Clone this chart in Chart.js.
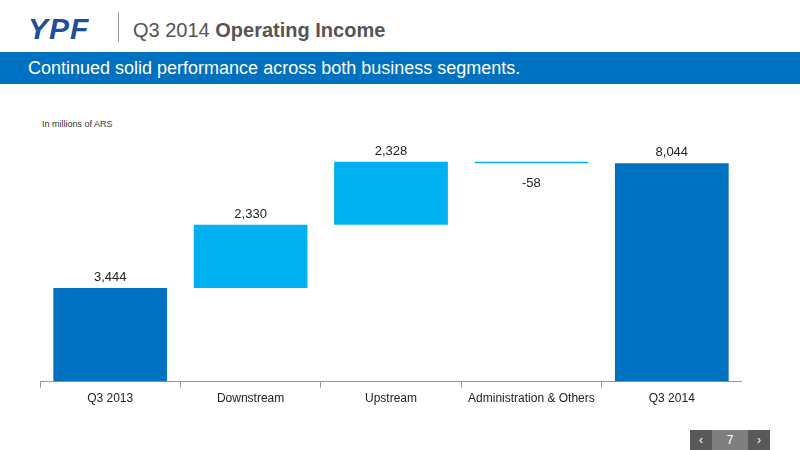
<!DOCTYPE html>
<html><head><meta charset="utf-8">
<script src="https://cdn.jsdelivr.net/npm/chart.js@4"></script>
<style>
body{margin:0;width:800px;height:450px;position:relative;background:#fff;font-family:"Liberation Sans",Arial,sans-serif;overflow:hidden}
#logo{position:absolute;left:28px;top:12px;font:italic bold 30px "Liberation Sans";color:#1f4e9c;letter-spacing:1px}
#sep{position:absolute;left:118px;top:12px;width:1px;height:30px;background:#999}
#title{position:absolute;left:133px;top:19px;font-size:20px;color:#555}
#band{position:absolute;left:0;top:52px;width:800px;height:32px;background:#0070c0;color:#fff;font-size:18px;line-height:32px;padding-left:28px;box-sizing:border-box}
#unit{position:absolute;left:42px;top:119px;font-size:9px;color:#333}
#wrap{position:absolute;left:30px;top:140px;width:712px;height:270px}
#nav{position:absolute;left:690px;top:430px;width:80px;height:20px;background:#7f7f7f;color:#fff;font-size:12px;text-align:center;line-height:20px}
#nav span{position:absolute;top:0;width:22px;height:20px;background:#595959}
</style></head><body>
<div id="logo">YPF</div><div id="sep"></div>
<div id="title">Q3 2014 <b>Operating Income</b></div>
<div id="band">Continued solid performance across both business segments.</div>
<div id="unit">In millions of ARS</div>
<div id="wrap"><canvas id="c"></canvas></div>
<div id="nav"><span style="left:0">&lsaquo;</span>7<span style="right:0">&rsaquo;</span></div>
<script>
var categories = ['Q3 2013', 'Downstream', 'Upstream', 'Administration & Others', 'Q3 2014'];
var changes = [3444, 2330, 2328, -58, 8044];
var labels = ['3,444', '2,330', '2,328', '-58', '8,044'];
var isTotal = [true, false, false, false, true];

var ranges = [], run = 0;
for (var i = 0; i < changes.length; i++) {
  if (isTotal[i]) { ranges.push([0, changes[i]]); run = changes[i]; }
  else { ranges.push([run, run + changes[i]]); run += changes[i]; }
}

var valueLabels = {
  id: 'valueLabels',
  afterDatasetsDraw: function (chart) {
    var ctx = chart.ctx, meta = chart.getDatasetMeta(0);
    ctx.save();
    ctx.font = '13px "Liberation Sans"';
    ctx.fillStyle = '#222';
    ctx.textAlign = 'center';
    meta.data.forEach(function (bar, i) {
      var r = ranges[i];
      var top = chart.scales.y.getPixelForValue(Math.max(r[0], r[1]));
      var bot = chart.scales.y.getPixelForValue(Math.min(r[0], r[1]));
      if (changes[i] < 0) { ctx.textBaseline = 'top'; ctx.fillText(labels[i], bar.x, bot + 14); }
      else { ctx.textBaseline = 'bottom'; ctx.fillText(labels[i], bar.x, top - 4); }
    });
    ctx.restore();
  }
};

new Chart(document.getElementById('c'), {
  type: 'bar',
  data: {
    labels: categories,
    datasets: [{
      data: ranges,
      backgroundColor: isTotal.map(function (t) { return t ? '#0070c0' : '#00b0f0'; }),
      barPercentage: 0.81,
      categoryPercentage: 1
    }]
  },
  options: {
    responsive: true, maintainAspectRatio: false, animation: false,
    layout: { padding: { top: 0, left: 10, right: 0 } },
    plugins: { legend: { display: false }, tooltip: { enabled: false } },
    scales: {
      x: {
        grid: { display: true, drawOnChartArea: false, offset: true, tickLength: 6, color: '#999' },
        border: { color: '#999' },
        ticks: { color: '#222', maxRotation: 0, autoSkip: false, padding: 4, font: { size: 12, family: 'Liberation Sans' } }
      },
      y: { display: false, min: 0, max: 8900 }
    }
  },
  plugins: [valueLabels]
});
</script>
</body></html>
